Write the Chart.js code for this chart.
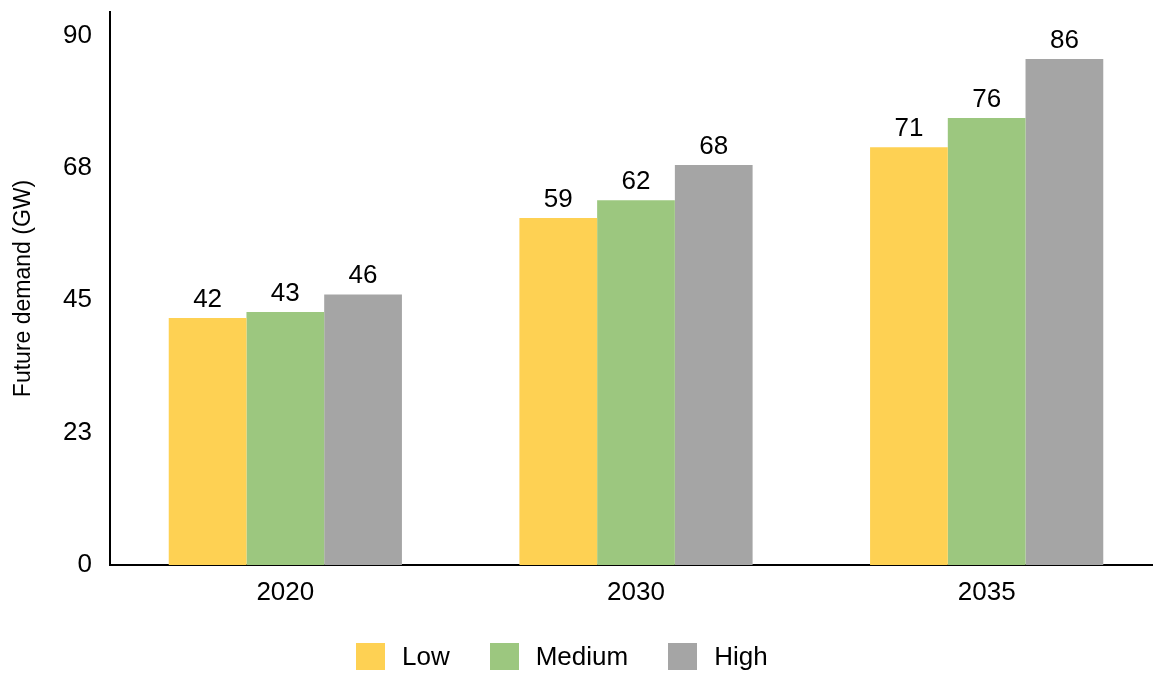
<!DOCTYPE html>
<html>
<head>
<meta charset="utf-8">
<title>Future demand (GW)</title>
<script src="https://cdn.jsdelivr.net/npm/chart.js@4/dist/chart.umd.min.js"></script>
<style>
  html, body { margin: 0; padding: 0; background: #ffffff; overflow: hidden; }
  #clip { position: relative; width: 1153px; height: 673px; overflow: hidden; }
  #wrap { position: absolute; left: 0; top: 0; width: 1162px; height: 673px; }
  #legend {
    position: absolute; left: 356px; top: 641px;
    display: flex; align-items: center;
    font-family: "Liberation Sans", Arial, Helvetica, sans-serif;
    font-size: 26px; color: #000;
  }
  .item { display: flex; align-items: center; margin-right: 40px; }
  .swatch { width: 29px; height: 27px; margin-right: 17px; }
</style>
</head>
<body>
<div id="clip">
  <div id="wrap">
    <canvas id="chart"></canvas>
  </div>
  <div id="legend"></div>
</div>
<script>
// Scenario years on the x axis
const years = ['2020', '2030', '2035'];

// Demand per scenario (GW)
const lowDemand = [42, 59, 71];
const mediumDemand = [43, 62, 76];
const highDemand = [46, 68, 86];

// Y axis ticks and the labels printed beside them
const yTickValues = [0, 22.5, 45, 67.5, 90];
const yTickLabels = ['0', '23', '45', '68', '90'];

const FONT = '"Liberation Sans", Arial, Helvetica, sans-serif';

// Value labels above every bar
const valueLabels = {
  id: 'valueLabels',
  afterDatasetsDraw(chart) {
    const ctx = chart.ctx;
    ctx.save();
    ctx.font = '26px ' + FONT;
    ctx.fillStyle = '#000';
    ctx.textAlign = 'center';
    ctx.textBaseline = 'alphabetic';
    chart.data.datasets.forEach((ds, i) => {
      chart.getDatasetMeta(i).data.forEach((bar, j) => {
        ctx.fillText(String(ds.data[j]), bar.x, bar.y - 11);
      });
    });
    ctx.restore();
  }
};

const chart = new Chart(document.getElementById('chart'), {
  type: 'bar',
  data: {
    labels: years,
    datasets: [
      { label: 'Low', data: lowDemand, backgroundColor: '#FED153' },
      { label: 'Medium', data: mediumDemand, backgroundColor: '#9CC77F' },
      { label: 'High', data: highDemand, backgroundColor: '#A5A5A5' }
    ]
  },
  options: {
    responsive: true,
    maintainAspectRatio: false,
    animation: false,
    layout: { padding: { top: 12, right: 0, bottom: 58, left: 0 } },
    datasets: {
      bar: { categoryPercentage: 0.665, barPercentage: 1.0, borderWidth: 0 }
    },
    plugins: {
      legend: { display: false },
      tooltip: { enabled: false }
    },
    scales: {
      x: {
        grid: { display: false, drawTicks: false },
        border: { display: true, color: '#000', width: 2 },
        ticks: { color: '#000', padding: 12, font: { family: FONT, size: 26 } },
        afterFit(scale) {
          scale.height = 50;
          scale.paddingLeft = 0;
          scale.paddingRight = 0;
        }
      },
      y: {
        min: 0,
        max: 94,
        grid: { display: false, drawTicks: false },
        border: { display: true, color: '#000', width: 2 },
        afterBuildTicks(scale) {
          scale.ticks = yTickValues.map(v => ({ value: v }));
        },
        ticks: {
          color: '#000',
          padding: 18,
          font: { family: FONT, size: 26 },
          callback: (value, index) => yTickLabels[index]
        },
        title: {
          display: true,
          text: 'Future demand (GW)',
          color: '#000',
          font: { family: FONT, size: 23 },
          padding: { top: 10, bottom: 0 }
        },
        afterFit(scale) {
          scale.width = 110;
          scale.paddingTop = 0;
          scale.paddingBottom = 0;
        }
      }
    }
  },
  plugins: [valueLabels]
});

// Legend built from the chart's datasets
const legendEl = document.getElementById('legend');
chart.data.datasets.forEach(ds => {
  const item = document.createElement('div');
  item.className = 'item';
  const sw = document.createElement('span');
  sw.className = 'swatch';
  sw.style.background = ds.backgroundColor;
  const txt = document.createElement('span');
  txt.textContent = ds.label;
  item.appendChild(sw);
  item.appendChild(txt);
  legendEl.appendChild(item);
});
</script>
</body>
</html>
